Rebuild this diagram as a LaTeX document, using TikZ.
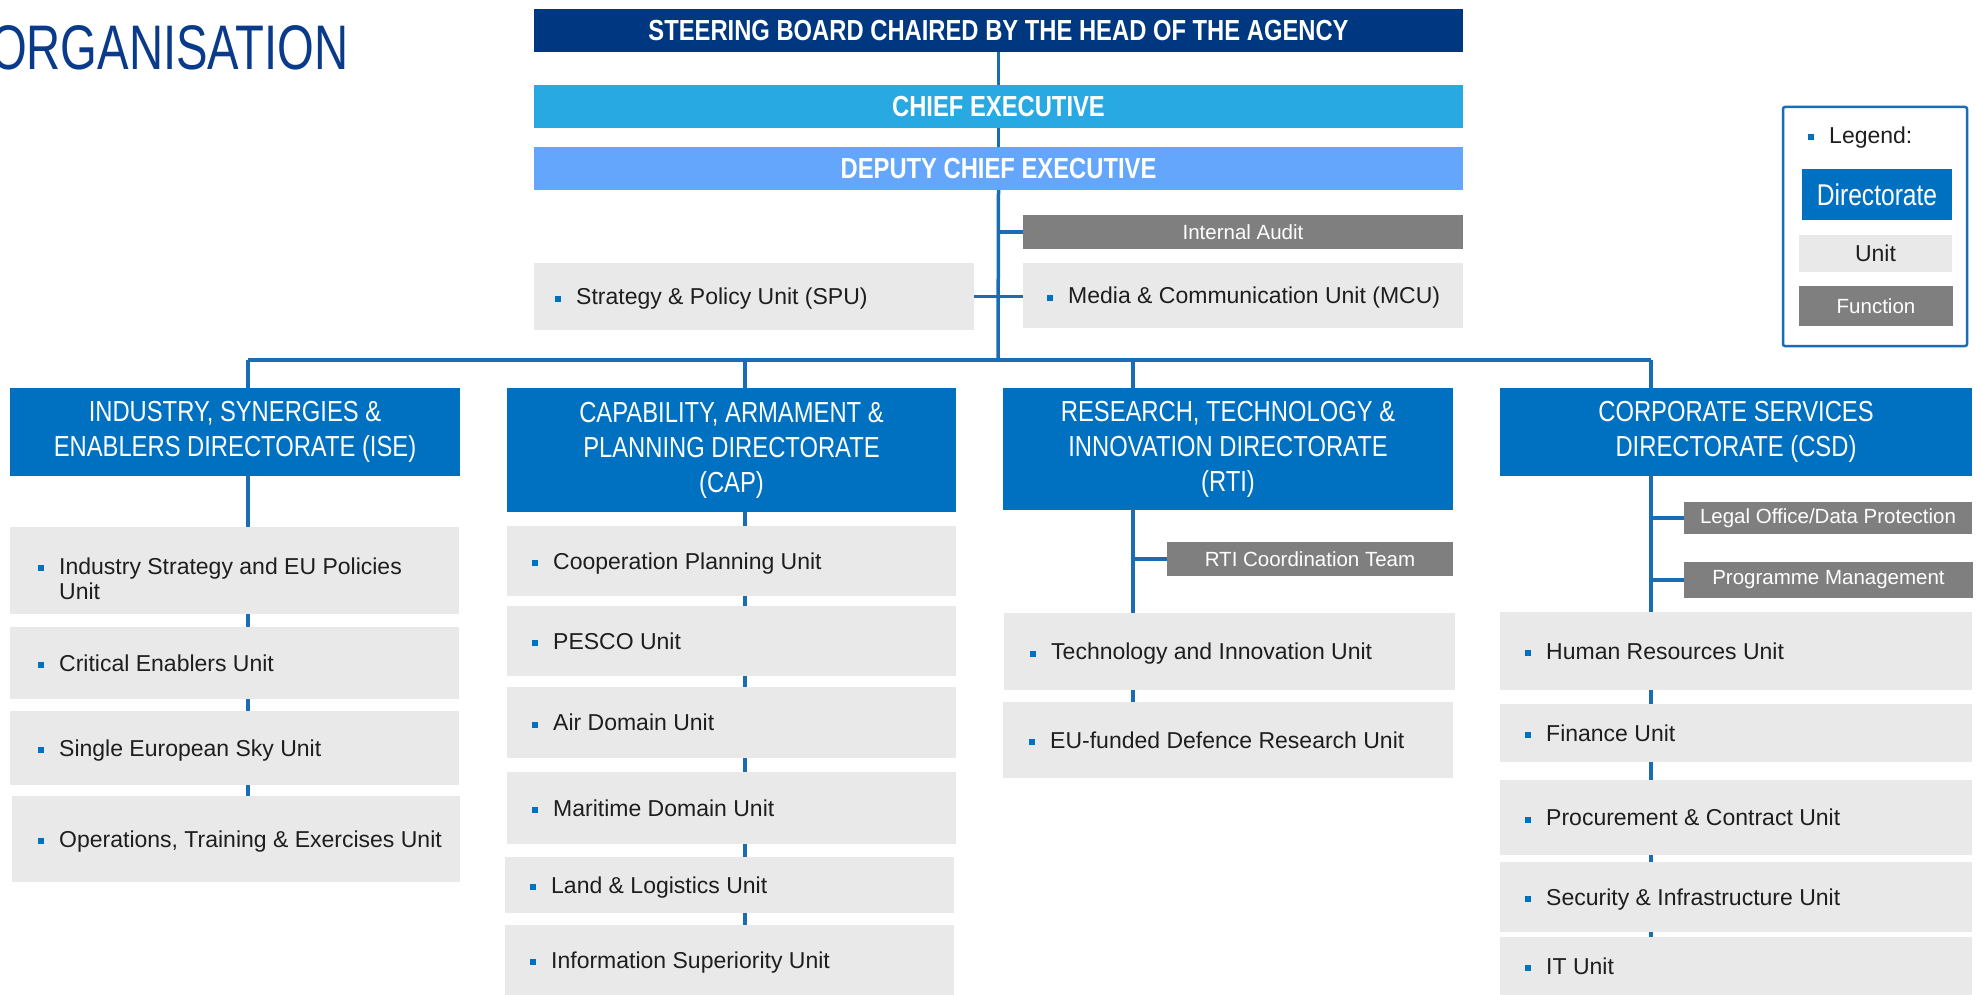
\documentclass[tikz,border=0pt]{standalone}
\usepackage{fontspec}
\setmainfont{Liberation Sans}
\newfontfamily\nar[FakeStretch=0.82]{Liberation Sans}
\newfontfamily\ttlfont[FakeStretch=0.75]{Liberation Sans}
\usetikzlibrary{backgrounds}
\definecolor{navy}{HTML}{003781}
\definecolor{chiefc}{HTML}{29A9E1}
\definecolor{deputyc}{HTML}{63A6FB}
\definecolor{dirc}{HTML}{0070C0}
\definecolor{funcc}{HTML}{7F7F7F}
\definecolor{unitc}{HTML}{E9E9E9}
\definecolor{lnc}{HTML}{1A6CB4}
\definecolor{ttlc}{HTML}{0A3B8B}
\definecolor{utxt}{HTML}{1E1E1E}
\newcommand\ubul{\textcolor{dirc}{\rule[3pt]{6pt}{6pt}}\hspace{15pt}}
\tikzset{
  box/.style={inner sep=0pt, outer sep=0pt, draw=none},
  cbox/.style n args={4}{at={({(#1+#3)/2},{(#2+#4)/2})},
    minimum width={(#3-#1)*1pt}, minimum height={(#4-#2)*1pt}},
  topbox/.style={box, fill=#1, text=white, font=\nar\bfseries\fontsize{29}{32}\selectfont},
  dirbox/.style={box, fill=dirc, text=white, align=center, font=\nar\fontsize{29}{35}\selectfont},
  funcbox/.style={box, fill=funcc, text=white, font=\fontsize{20.5}{24}\selectfont},
  unitbox/.style={box, fill=unitc},
  ulab/.style={anchor=west, xshift=#1, inner sep=0pt, text=utxt,
    font=\fontsize{23}{25}\selectfont, text height=16.5pt, text depth=0pt,
    execute at begin node=\ubul},
  ulabm/.style={anchor=west, xshift=#1, inner sep=0pt, text=utxt, align=left,
    font=\fontsize{23}{25}\selectfont},
  link/.style={draw=lnc, line width=3.5pt},
  thick link/.style={draw=lnc, line width=4.5pt},
}
\begin{document}
\begin{tikzpicture}[x=1pt,y=-1pt]
\useasboundingbox (0,0) rectangle (1981,995);

% title
\node[anchor=base east, inner sep=0pt, text=ttlc, font=\ttlfont\fontsize{63}{63}\selectfont] (title) at (349,70) {ORGANISATION};

% top boxes
\node[topbox=navy, cbox={534}{9}{1463}{52}] (steer) {STEERING BOARD CHAIRED BY THE HEAD OF THE AGENCY};
\node[topbox=chiefc, cbox={534}{85}{1463}{128}] (chief) {CHIEF EXECUTIVE};
\node[topbox=deputyc, cbox={534}{147}{1463}{190}] (dep) {DEPUTY CHIEF EXECUTIVE};
\node[funcbox, cbox={1023}{215}{1463}{249}] (audit) {Internal Audit};
\node[unitbox, cbox={534}{263}{974}{330}, label={[ulab=21pt]west:{Strategy \& Policy Unit (SPU)}}] (spu) {};
\node[unitbox, cbox={1023}{263}{1463}{328}, label={[ulab=24pt]west:{Media \& Communication Unit (MCU)}}] (mcu) {};

% directorates
\node[dirbox, cbox={10}{388}{460}{476}] (ise) {INDUSTRY, SYNERGIES \&\\ENABLERS DIRECTORATE (ISE)};
\node[dirbox, cbox={507}{388}{956}{512}] (cap) {CAPABILITY, ARMAMENT \&\\PLANNING DIRECTORATE\\(CAP)};
\node[dirbox, cbox={1003}{388}{1453}{510}] (rti) {RESEARCH, TECHNOLOGY \&\\INNOVATION DIRECTORATE\\(RTI)};
\node[dirbox, cbox={1500}{388}{1972}{476}] (csd) {CORPORATE SERVICES\\DIRECTORATE (CSD)};

% ISE units
\node[unitbox, cbox={10}{527}{459}{614}, label={[ulabm=28pt, yshift=-8pt]west:{\ubul Industry Strategy and EU Policies\\\hspace*{21pt}Unit}}] (ise1) {};
\node[unitbox, cbox={10}{627}{459}{699}, label={[ulab=28pt]west:{Critical Enablers Unit}}] (ise2) {};
\node[unitbox, cbox={10}{711}{459}{785}, label={[ulab=28pt]west:{Single European Sky Unit}}] (ise3) {};
\node[unitbox, cbox={12}{796}{460}{882}, label={[ulab=26pt]west:{Operations, Training \& Exercises Unit}}] (ise4) {};

% CAP units
\node[unitbox, cbox={507}{526}{956}{596}, label={[ulab=25pt]west:{Cooperation Planning Unit}}] (cap1) {};
\node[unitbox, cbox={507}{606}{956}{676}, label={[ulab=25pt]west:{PESCO Unit}}] (cap2) {};
\node[unitbox, cbox={507}{687}{956}{758}, label={[ulab=25pt]west:{Air Domain Unit}}] (cap3) {};
\node[unitbox, cbox={507}{772}{956}{844}, label={[ulab=25pt]west:{Maritime Domain Unit}}] (cap4) {};
\node[unitbox, cbox={505}{857}{954}{913}, label={[ulab=25pt]west:{Land \& Logistics Unit}}] (cap5) {};
\node[unitbox, cbox={505}{925}{954}{995}, label={[ulab=25pt]west:{Information Superiority Unit}}] (cap6) {};

% RTI
\node[funcbox, cbox={1167}{542}{1453}{576}] (rtic) {RTI Coordination Team};
\node[unitbox, cbox={1004}{613}{1455}{690}, label={[ulab=26pt]west:{Technology and Innovation Unit}}] (rti1) {};
\node[unitbox, cbox={1003}{702}{1453}{778}, label={[ulab=26pt]west:{EU-funded Defence Research Unit}}] (rti2) {};

% CSD
\node[funcbox, cbox={1684}{502}{1972}{534}] (legal) {Legal Office/Data Protection};
\node[funcbox, cbox={1684}{562}{1973}{598}] (prog) {Programme Management};
\node[unitbox, cbox={1500}{612}{1972}{690}, label={[ulab=25pt]west:{Human Resources Unit}}] (csd1) {};
\node[unitbox, cbox={1500}{704}{1972}{762}, label={[ulab=25pt]west:{Finance Unit}}] (csd2) {};
\node[unitbox, cbox={1500}{780}{1972}{855}, label={[ulab=25pt]west:{Procurement \& Contract Unit}}] (csd3) {};
\node[unitbox, cbox={1500}{862}{1972}{932}, label={[ulab=25pt]west:{Security \& Infrastructure Unit}}] (csd4) {};
\node[unitbox, cbox={1500}{937}{1972}{995}, label={[ulab=25pt]west:{IT Unit}}] (csd5) {};

% legend
\node[box, draw=lnc, line width=2.5pt, rounded corners=2pt, cbox={1783}{107}{1967}{346}] (legend) {};
\node[anchor=west, inner sep=0pt, text=utxt, font=\fontsize{23}{25}\selectfont, text height=16.5pt, text depth=0pt] (legt) at (1808,135) {\ubul Legend:};
\node[dirbox, cbox={1802}{169}{1952}{220}, font=\nar\fontsize{30}{32}\selectfont] (legdir) {Directorate};
\node[unitbox, cbox={1799}{235}{1952}{272}, text=utxt, font=\fontsize{23}{25}\selectfont] (legunit) {Unit};
\node[funcbox, cbox={1799}{286}{1953}{326}] (legfunc) {Function};

% connectors
\coordinate (dISE) at (248,360);
\coordinate (dCAP) at (745,360);
\coordinate (dRTI) at (1133,360);
\coordinate (dCSD) at (1651,360);
\coordinate (hub) at (998,360);
\begin{pgfonlayer}{background}
\draw[link] (steer.south) -- (chief.north);
\draw[link] (chief.south) -- (dep.north);
\draw[link] (dep.south) -- (hub);
\draw[link] (audit.west -| hub) -- (audit.west);
\draw[link] (spu.east) -- (mcu.west |- spu.east);
\draw[link] (dISE) -- (dCSD);
\draw[link] (dISE) -- (dISE |- ise.north);
\draw[link] (dCAP) -- (dCAP |- cap.north);
\draw[link] (dRTI) -- (dRTI |- rti.north);
\draw[link] (dCSD) -- (dCSD |- csd.north);
\draw[thick link] (dISE |- ise.south) -- (dISE |- ise4.north);
\draw[link] (dCAP |- cap.south) -- (dCAP |- cap6.north);
\draw[link] (dRTI |- rti.south) -- (dRTI |- rti2.north);
\draw[link] (rtic.west -| dRTI) -- (rtic.west);
\draw[link] (dCSD |- csd.south) -- (dCSD |- csd5.north);
\draw[link] (legal.west -| dCSD) -- (legal.west);
\draw[link] (prog.west -| dCSD) -- (prog.west);
\end{pgfonlayer}
\end{tikzpicture}
\end{document}
